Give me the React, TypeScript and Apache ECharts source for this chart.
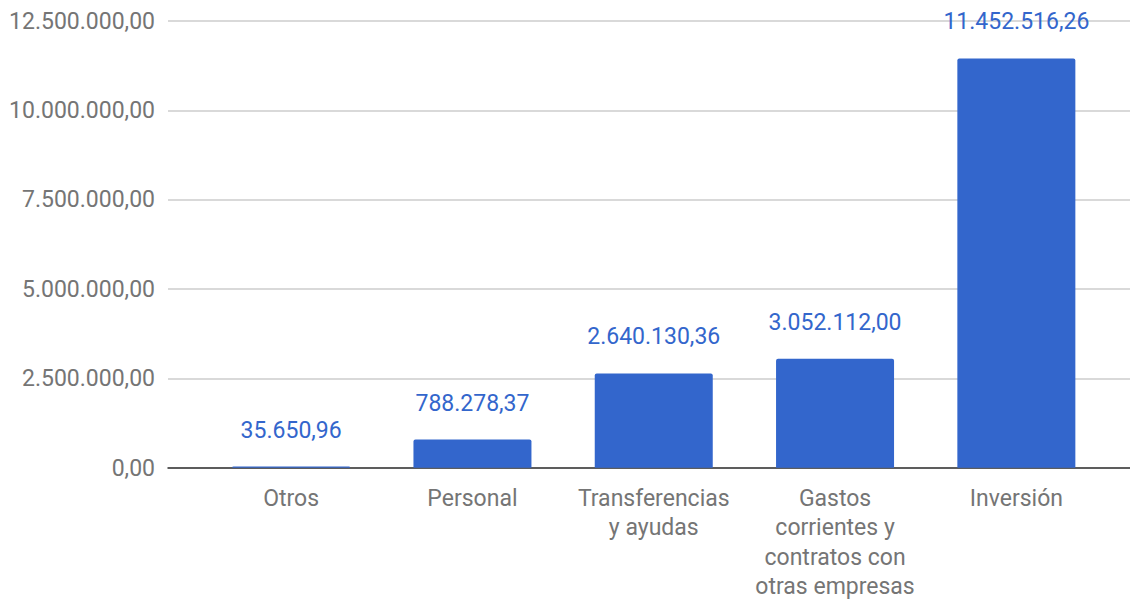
import React, { useEffect, useRef } from "react";
import * as echarts from "echarts";

const categories = [
  "Otros",
  "Personal",
  "Transferencias\ny ayudas",
  "Gastos\ncorrientes y\ncontratos con\notras empresas",
  "Inversión",
];
const values = [35650.96, 788278.37, 2640130.36, 3052112.0, 11452516.26];
const yMin = 0;
const yMax = 12500000;
const yStep = 2500000;

function fmt(v: number): string {
  const neg = v < 0;
  const abs = Math.abs(v);
  const fixed = abs.toFixed(2);
  const [intPart, dec] = fixed.split(".");
  const withDots = intPart.replace(/\B(?=(\d{3})+(?!\d))/g, ".");
  return (neg ? "-" : "") + withDots + "," + dec;
}

export default function App() {
  const ref = useRef<HTMLDivElement>(null);
  useEffect(() => {
    if (!ref.current) return;
    const chart = echarts.init(ref.current, null, { renderer: "svg" });
    const font = "Roboto";
    const fs = 23;
    chart.setOption({
      animation: false,
      textStyle: { fontFamily: font },
      grid: [
        { left: 168, right: 0, top: 21, bottom: 133, containLabel: false },
        { left: 200.5, right: 23, top: 21, bottom: 133, containLabel: false },
      ],
      xAxis: [
        {
          gridIndex: 0,
          type: "value",
          min: 0,
          max: 1,
          axisLabel: { show: false },
          axisTick: { show: false },
          splitLine: { show: false },
          axisLine: { show: true, onZero: false, lineStyle: { color: "#333", width: 1.5 } },
        },
        {
          gridIndex: 1,
          type: "category",
          data: categories,
          axisLine: { show: false },
          axisTick: { show: false },
          axisLabel: {
            color: "#757575",
            fontSize: fs,
            fontFamily: font,
            margin: 16,
            lineHeight: 29.3,
            interval: 0,
          },
        },
      ],
      yAxis: [
        {
          gridIndex: 0,
          type: "value",
          min: yMin,
          max: yMax,
          interval: yStep,
          axisLine: { show: false },
          axisTick: { show: false },
          axisLabel: {
            color: "#757575",
            fontSize: fs,
            fontFamily: font,
            margin: 13,
            formatter: (v: number) => fmt(v),
          },
          splitLine: { show: true, lineStyle: { color: "#cccccc", width: 1.5 } },
        },
        {
          gridIndex: 1,
          type: "value",
          min: yMin,
          max: yMax,
          interval: yStep,
          axisLine: { show: false },
          axisTick: { show: false },
          axisLabel: { show: false },
          splitLine: { show: false },
        },
      ],
      series: [
        {
          type: "bar",
          xAxisIndex: 1,
          yAxisIndex: 1,
          data: values,
          barWidth: 118,
          itemStyle: { color: "#3366CC", borderRadius: [2, 2, 0, 0] },
          label: {
            show: true,
            position: "top",
            distance: 25,
            color: "#3366CC",
            fontSize: fs,
            fontFamily: font,
            formatter: (p: any) => fmt(p.value),
          },
          z: 3,
        },
      ],
    });
    return () => chart.dispose();
  }, []);
  return (
    <div
      ref={ref}
      style={{ position: "fixed", left: 0, top: 0, width: 1130, height: 601, background: "#fff" }}
    />
  );
}
